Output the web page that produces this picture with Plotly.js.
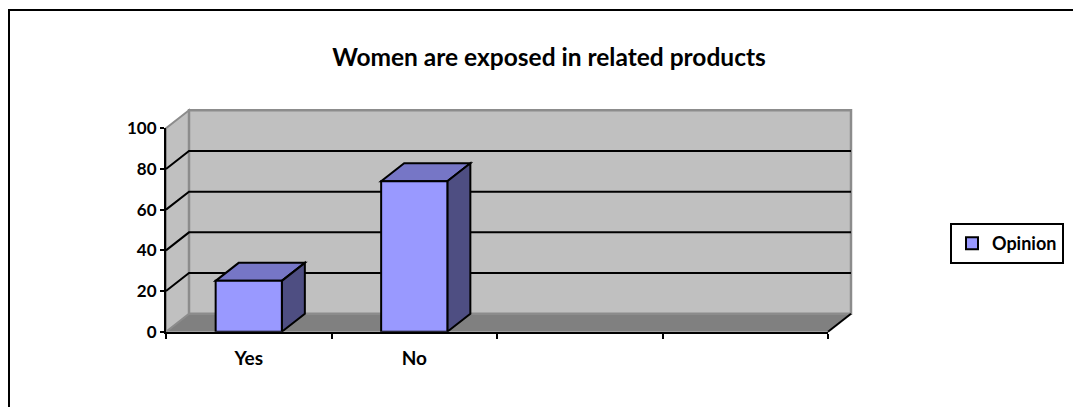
<!DOCTYPE html>
<html>
<head>
<meta charset="utf-8">
<script src="https://cdn.plot.ly/plotly-3.0.1.min.js"></script>
<style>
  html, body { margin: 0; padding: 0; background: #ffffff; }
  #chart { width: 1073px; height: 407px; }
</style>
</head>
<body>
<div id="chart"></div>
<script>
// Survey answers
const categories = ["Yes", "No"];
const opinion = [25, 74];
const seriesName = "Opinion";
const chartTitle = "Women are exposed in related products";
const yTickValues = [0, 20, 40, 60, 80, 100];
const slotCount = 4;            // category slots on the floor (two are empty)

// Page and plot geometry (pixels)
const W = 1073, H = 407;
const FRONT = { left: 166, right: 828, top: 128.3, bottom: 331.7 };
const DEPTH = { x: 23, y: 18 };   // oblique offset of the back wall
const PAD = 3;                    // room so wall edges are not clipped

const pxPerX = (FRONT.right - FRONT.left) / slotCount;
const pxPerY = (FRONT.bottom - FRONT.top) / 100;
const DX = DEPTH.x / pxPerX;
const DY = DEPTH.y / pxPerY;
const X0 = -0.5, X1 = slotCount - 0.5;
const BAR_W = 0.4;

const font = "Lato, 'Open Sans', sans-serif";
const fx = px => px / W;
const fy = px => 1 - px / H;

// Wall subplot (xy): covers front plane plus depth
const wallXRange = [X0 - PAD / pxPerX, X1 + DX + PAD / pxPerX];
const wallYRange = [0 - PAD / pxPerY, 100 + DY + PAD / pxPerY];
const wallXDomain = [fx(FRONT.left - PAD), fx(FRONT.right + DEPTH.x + PAD)];
const wallYDomain = [fy(FRONT.bottom + PAD), fy(FRONT.top - DEPTH.y - PAD)];

const shapes = [];
const wallRef = { xref: "x", yref: "y", layer: "below" };
const frontRef = { xref: "x2", yref: "y2", layer: "below" };
const pathOf = pts => "M" + pts.map(p => p[0] + "," + p[1]).join("L") + "Z";
const lineOf = pts => "M" + pts.map(p => p[0] + "," + p[1]).join("L");

// Floor
shapes.push(Object.assign({}, wallRef, {
  type: "path",
  path: pathOf([[X0, 0], [X1, 0], [X1 + DX, DY], [X0 + DX, DY]]),
  fillcolor: "#808080", line: { width: 0 }
}));
// Side wall
shapes.push(Object.assign({}, wallRef, {
  type: "path",
  path: pathOf([[X0, 0], [X0 + DX, DY], [X0 + DX, 100 + DY], [X0, 100]]),
  fillcolor: "#C0C0C0", line: { color: "#8c8c8c", width: 2 }
}));
// Back wall
shapes.push(Object.assign({}, wallRef, {
  type: "rect", x0: X0 + DX, x1: X1 + DX, y0: DY, y1: 100 + DY,
  fillcolor: "#C0C0C0", line: { color: "#8c8c8c", width: 2.5 }
}));
// Floor right edge
shapes.push(Object.assign({}, wallRef, {
  type: "path", path: lineOf([[X1, 0], [X1 + DX, DY]]),
  line: { color: "#000000", width: 2 }
}));
// Gridlines across side and back walls
yTickValues.filter(v => v > 0 && v < 100).forEach(v => {
  shapes.push(Object.assign({}, wallRef, {
    type: "path",
    path: lineOf([[X0, v], [X0 + DX, v + DY], [X1 + DX, v + DY]]),
    line: { color: "#000000", width: 2 }
  }));
});

// Column tops and sides
categories.forEach((c, i) => {
  const v = opinion[i];
  const l = i - BAR_W / 2, r = i + BAR_W / 2;
  shapes.push(Object.assign({}, frontRef, {
    type: "path",
    path: pathOf([[l, v], [r, v], [r + DX, v + DY], [l + DX, v + DY]]),
    fillcolor: "#7676C6", line: { color: "#000000", width: 2 }
  }));
  shapes.push(Object.assign({}, frontRef, {
    type: "path",
    path: pathOf([[r, 0], [r + DX, DY], [r + DX, v + DY], [r, v]]),
    fillcolor: "#4E4E82", line: { color: "#000000", width: 2 }
  }));
});

// Outer chart border
shapes.push({
  type: "rect", xref: "paper", yref: "paper", layer: "above",
  x0: fx(9), x1: fx(W + 5), y0: fy(H + 5), y1: fy(10),
  line: { color: "#000000", width: 2 }, fillcolor: "rgba(0,0,0,0)"
});

const data = [{
  type: "bar",
  name: seriesName,
  x: categories.map((c, i) => i),
  y: opinion,
  width: BAR_W,
  xaxis: "x2", yaxis: "y2",
  marker: { color: "#9999FF", line: { color: "#000000", width: 2 } },
  hoverinfo: "skip",
  showlegend: true
}];

const layout = {
  width: W, height: H,
  margin: { l: 0, r: 0, t: 0, b: 0 },
  paper_bgcolor: "#ffffff",
  plot_bgcolor: "rgba(0,0,0,0)",
  font: { family: font, color: "#000000" },
  title: {
    text: "<b>" + chartTitle + "</b>",
    font: { family: font, size: 24.5, color: "#000000" },
    x: 549 / W, xanchor: "center", y: fy(57), yanchor: "middle"
  },
  xaxis: {
    domain: wallXDomain, range: wallXRange, anchor: "y",
    visible: false, fixedrange: true
  },
  yaxis: {
    domain: wallYDomain, range: wallYRange, anchor: "x",
    visible: false, fixedrange: true
  },
  xaxis2: {
    domain: [fx(FRONT.left), fx(FRONT.right)], range: [X0, X1], anchor: "y2",
    showline: true, linecolor: "#000000", linewidth: 2,
    showgrid: false, zeroline: false,
    tickmode: "array", tickvals: categories.map((c, i) => i), ticktext: categories,
    ticks: "", ticklabelstandoff: 8,
    tickfont: { family: font, size: 19, color: "#000000", weight: "bold" },
    minor: {
      tickmode: "array",
      tickvals: Array.from({ length: slotCount + 1 }, (_, k) => X0 + k),
      ticks: "outside", ticklen: 5, tickwidth: 2, tickcolor: "#000000", showgrid: false
    },
    fixedrange: true
  },
  yaxis2: {
    domain: [fy(FRONT.bottom), fy(FRONT.top)], range: [0, 100], anchor: "x2",
    showline: true, linecolor: "#000000", linewidth: 2,
    showgrid: false, zeroline: false,
    tickmode: "array", tickvals: yTickValues,
    ticks: "outside", ticklen: 4, tickwidth: 2, tickcolor: "#000000",
    ticklabelstandoff: 0,
    tickfont: { family: font, size: 17, color: "#000000", weight: "bold" },
    fixedrange: true
  },
  showlegend: true,
  legend: {
    x: fx(950), xanchor: "left", y: fy(243.5), yanchor: "middle",
    bgcolor: "#ffffff", bordercolor: "#000000", borderwidth: 2,
    font: { family: font, size: 18, color: "#000000", weight: "bold" },
    itemwidth: 30
  },
  shapes: shapes
};

Plotly.newPlot("chart", data, layout, { displayModeBar: false, staticPlot: true });
</script>
</body>
</html>
